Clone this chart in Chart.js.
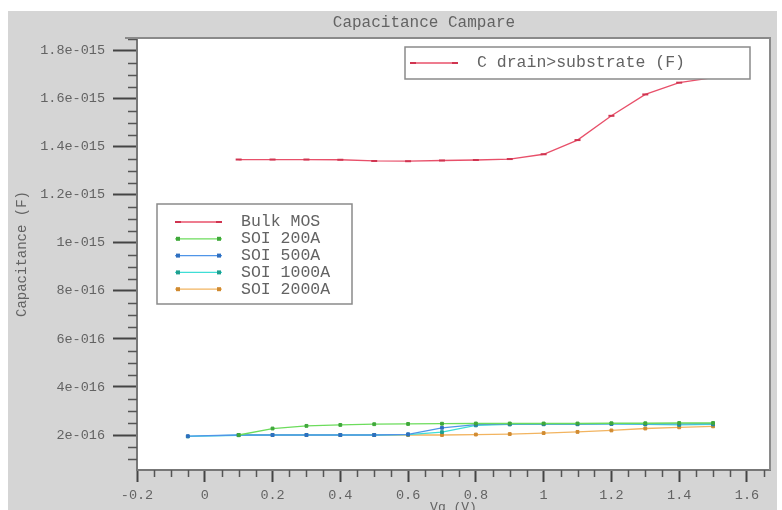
<!DOCTYPE html>
<html>
<head>
<meta charset="utf-8">
<script src="https://cdn.jsdelivr.net/npm/chart.js"></script>
<style>
html, body { margin: 0; padding: 0; background: #fff; }
#wrap { width: 782px; height: 510px; }
</style>
</head>
<body>
<div id="wrap"><canvas id="capChart" width="782" height="510"></canvas></div>
<script>
const chartTitle = 'Capacitance Campare';
const quantityLabel = 'C drain>substrate (F)';
const xAxisLabel = 'Vg (V)';
const yAxisLabel = 'Capacitance (F)';

const seriesNames = ['Bulk MOS', 'SOI 200A', 'SOI 500A', 'SOI 1000A', 'SOI 2000A'];
const seriesColors = ['#e8506a', '#6cdc5c', '#4f95e8', '#3fded6', '#f2b460'];
const markerColors = ['#d03450', '#3fa83a', '#2f6fbf', '#1f9f8f', '#d08a30'];

// gate voltage sweeps
const vgMain = [0.1, 0.2, 0.3, 0.4, 0.5, 0.6, 0.7, 0.8, 0.9, 1.0, 1.1, 1.2, 1.3, 1.4, 1.5];
const vgThin = [-0.05, 0.1, 0.2, 0.3, 0.4, 0.5, 0.6, 0.7, 0.8, 0.9, 1.0, 1.1, 1.2, 1.3, 1.4, 1.5];

const bulkMos = [1.347e-15, 1.347e-15, 1.347e-15, 1.346e-15, 1.341e-15, 1.340e-15, 1.343e-15, 1.345e-15,
                 1.349e-15, 1.369e-15, 1.428e-15, 1.529e-15, 1.618e-15, 1.667e-15, 1.688e-15];
const soi200 = [2.00e-16, 2.27e-16, 2.38e-16, 2.42e-16, 2.45e-16, 2.46e-16, 2.47e-16, 2.48e-16,
                2.48e-16, 2.48e-16, 2.48e-16, 2.49e-16, 2.49e-16, 2.50e-16, 2.50e-16];
const soi500 = [1.95e-16, 2.00e-16, 2.00e-16, 2.00e-16, 2.00e-16, 2.00e-16, 2.03e-16, 2.30e-16,
                2.43e-16, 2.45e-16, 2.45e-16, 2.45e-16, 2.46e-16, 2.46e-16, 2.46e-16, 2.47e-16];
const soi1000 = [1.94e-16, 1.99e-16, 2.00e-16, 2.00e-16, 2.00e-16, 2.00e-16, 2.02e-16, 2.12e-16,
                 2.40e-16, 2.44e-16, 2.45e-16, 2.45e-16, 2.46e-16, 2.44e-16, 2.42e-16, 2.44e-16];
const soi2000 = [2.00e-16, 2.00e-16, 2.00e-16, 2.00e-16, 2.00e-16, 2.00e-16, 2.00e-16, 2.02e-16,
                 2.04e-16, 2.08e-16, 2.13e-16, 2.19e-16, 2.27e-16, 2.32e-16, 2.36e-16];

const xTicks = [-0.2, 0, 0.2, 0.4, 0.6, 0.8, 1, 1.2, 1.4, 1.6];
const xTickLabels = ['-0.2', '0', '0.2', '0.4', '0.6', '0.8', '1', '1.2', '1.4', '1.6'];
const yTicks = [2e-16, 4e-16, 6e-16, 8e-16, 1e-15, 1.2e-15, 1.4e-15, 1.6e-15, 1.8e-15];
const yTickLabels = ['2e-016', '4e-016', '6e-016', '8e-016', '1e-015', '1.2e-015', '1.4e-015', '1.6e-015', '1.8e-015'];

const monoFont = '"Liberation Mono", "DejaVu Sans Mono", monospace';
const textGray = '#636363';

function toPoints(xs, ys) {
    return ys.map((y, i) => ({ x: xs[i], y: y }));
}

function makeSet(idx, xs, ys, style) {
    return {
        label: seriesNames[idx],
        data: toPoints(xs, ys),
        borderColor: seriesColors[idx],
        backgroundColor: markerColors[idx],
        borderWidth: 1.3,
        pointStyle: style,
        pointRadius: style === 'line' ? 3 : 2,
        pointBorderWidth: style === 'line' ? 2 : 1,
        pointBackgroundColor: markerColors[idx],
        pointBorderColor: markerColors[idx],
        tension: 0,
        fill: false
    };
}

function drawMarker(ctx, style, x, y, color) {
    ctx.save();
    ctx.strokeStyle = color;
    ctx.fillStyle = color;
    if (style === 'line') {
        ctx.lineWidth = 2;
        ctx.beginPath(); ctx.moveTo(x - 3, y); ctx.lineTo(x + 3, y); ctx.stroke();
    } else {
        ctx.fillRect(x - 2, y - 2, 4, 4);
    }
    ctx.restore();
}

function drawSample(ctx, ds, x0, x1, y) {
    ctx.save();
    ctx.strokeStyle = ds.borderColor;
    ctx.lineWidth = 1.3;
    ctx.beginPath(); ctx.moveTo(x0, y); ctx.lineTo(x1, y); ctx.stroke();
    ctx.restore();
    drawMarker(ctx, ds.pointStyle, x0 + 3, y, ds.pointBackgroundColor);
    drawMarker(ctx, ds.pointStyle, x1 - 3, y, ds.pointBackgroundColor);
}

const framePlugin = {
    id: 'frame',
    beforeDraw(chart) {
        const { ctx, chartArea: a } = chart;
        ctx.save();
        ctx.fillStyle = '#ffffff';
        ctx.fillRect(0, 0, chart.width, chart.height);
        ctx.fillStyle = '#d5d5d5';
        ctx.fillRect(8, 11, 769, chart.height - 11);
        ctx.fillStyle = '#ffffff';
        ctx.fillRect(a.left, a.top, a.right - a.left, a.bottom - a.top);
        ctx.font = '16px ' + monoFont;
        ctx.fillStyle = textGray;
        ctx.textAlign = 'center';
        ctx.textBaseline = 'middle';
        ctx.fillText(chartTitle, 424, 23);
        ctx.restore();
    },
    afterDraw(chart) {
        const { ctx, chartArea: a } = chart;
        const xs = chart.scales.x, ys = chart.scales.y;
        ctx.save();
        // minor ticks
        ctx.strokeStyle = '#555';
        ctx.lineWidth = 1.5;
        ctx.beginPath();
        for (let k = -4; k <= 33; k++) {
            if (k % 4 === 0) continue;
            const px = Math.round(xs.getPixelForValue(k * 0.05)) + 0.5;
            ctx.moveTo(px, a.bottom); ctx.lineTo(px, a.bottom + 7);
        }
        for (let k = 2; k <= 37; k++) {
            if (k % 4 === 0) continue;
            const py = Math.round(ys.getPixelForValue(k * 5e-17)) + 0.5;
            ctx.moveTo(a.left - 9, py); ctx.lineTo(a.left, py);
        }
        ctx.stroke();
        // top and right border
        ctx.strokeStyle = '#8a8a8a';
        ctx.lineWidth = 2;
        ctx.beginPath();
        ctx.moveTo(a.left - 12, a.top); ctx.lineTo(a.right, a.top); ctx.lineTo(a.right, a.bottom);
        ctx.stroke();

        const sets = chart.data.datasets;
        ctx.font = '16.5px ' + monoFont;
        ctx.textBaseline = 'middle';
        ctx.textAlign = 'left';

        // quantity legend box
        ctx.fillStyle = '#fff';
        ctx.fillRect(405, 47, 345, 32);
        ctx.strokeStyle = '#8a8a8a';
        ctx.lineWidth = 1.5;
        ctx.strokeRect(405, 47, 345, 32);
        drawSample(ctx, sets[0], 410, 458, 63);
        ctx.fillStyle = textGray;
        ctx.fillText(quantityLabel, 477, 63);

        // series legend box
        ctx.fillStyle = '#fff';
        ctx.fillRect(157, 204, 195, 100);
        ctx.strokeStyle = '#8a8a8a';
        ctx.strokeRect(157, 204, 195, 100);
        sets.forEach((ds, i) => {
            const y = 222 + i * 16.8;
            drawSample(ctx, ds, 175, 222, y);
            ctx.fillStyle = textGray;
            ctx.fillText(ds.label, 241, y);
        });
        ctx.restore();
    }
};

document.addEventListener('DOMContentLoaded', function () {
    const ctx = document.getElementById('capChart').getContext('2d');

    new Chart(ctx, {
        type: 'line',
        data: {
            datasets: [
                makeSet(0, vgMain, bulkMos, 'line'),
                makeSet(1, vgMain, soi200, 'rect'),
                makeSet(2, vgThin, soi500, 'rect'),
                makeSet(3, vgThin, soi1000, 'rect'),
                makeSet(4, vgMain, soi2000, 'rect')
            ]
        },
        options: {
            responsive: false,
            animation: false,
            layout: { padding: { top: 38, right: 12, left: 0, bottom: 0 } },
            plugins: {
                legend: { display: false },
                tooltip: { enabled: false },
                title: { display: false }
            },
            scales: {
                x: {
                    type: 'linear',
                    min: -0.2,
                    max: 1.668,
                    afterFit: s => { s.height = 40; },
                    afterBuildTicks: s => { s.ticks = xTicks.map(v => ({ value: v })); },
                    ticks: {
                        callback: (v, i) => xTickLabels[i],
                        font: { family: monoFont, size: 13.5 },
                        color: textGray,
                        padding: 5,
                        maxRotation: 0,
                        autoSkip: false
                    },
                    grid: { drawOnChartArea: false, drawTicks: true, tickLength: 12, tickWidth: 2, tickColor: '#444' },
                    border: { display: true, color: '#777', width: 2 },
                    title: {
                        display: true, text: xAxisLabel, color: textGray,
                        font: { family: monoFont, size: 13 },
                        padding: { top: 0, bottom: -5 }
                    }
                },
                y: {
                    type: 'linear',
                    min: 5.43e-17,
                    max: 1.853e-15,
                    afterFit: s => { s.width = 137; },
                    afterBuildTicks: s => { s.ticks = yTicks.map(v => ({ value: v })); },
                    ticks: {
                        callback: (v, i) => yTickLabels[i],
                        font: { family: monoFont, size: 13.5 },
                        color: textGray,
                        padding: 8,
                        autoSkip: false
                    },
                    grid: { drawOnChartArea: false, drawTicks: true, tickLength: 24, tickWidth: 2, tickColor: '#444' },
                    border: { display: true, color: '#777', width: 2 },
                    title: {
                        display: true, text: yAxisLabel, color: textGray,
                        font: { family: monoFont, size: 14 },
                        padding: { top: 14, bottom: 0 }
                    }
                }
            }
        },
        plugins: [framePlugin]
    });
});
</script>
</body>
</html>
